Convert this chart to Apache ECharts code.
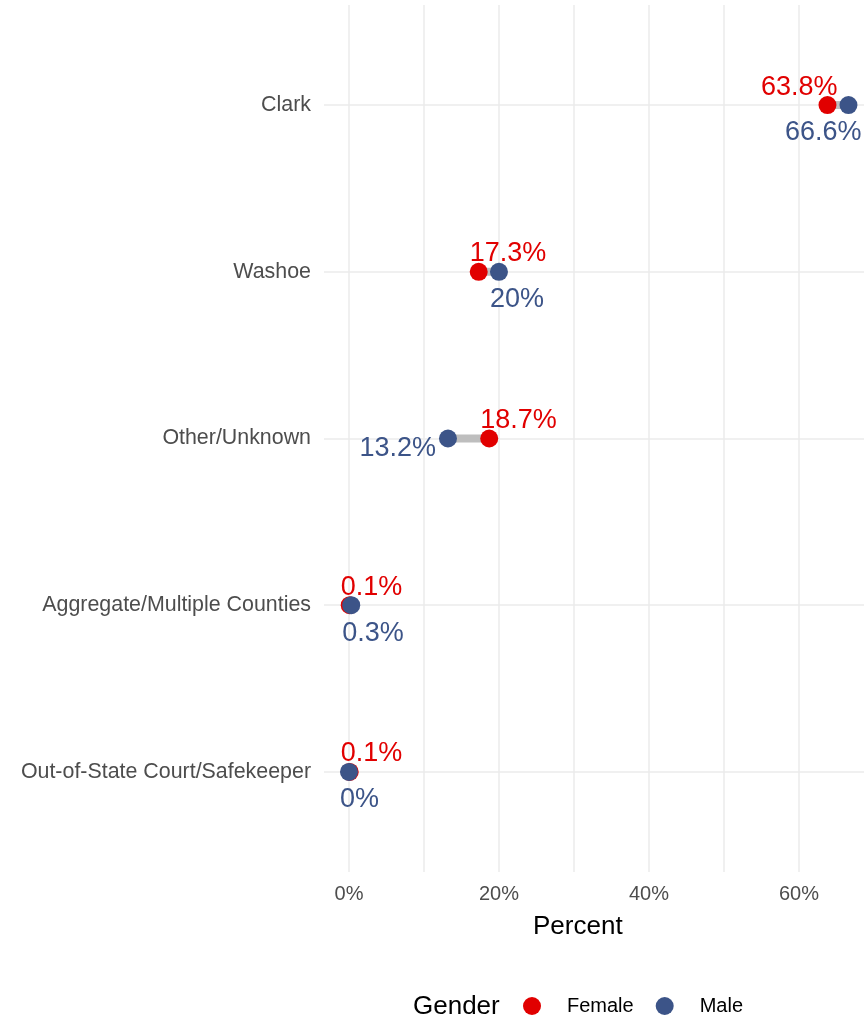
<!DOCTYPE html>
<html>
<head>
<meta charset="utf-8">
<title>Gender by county</title>
<script src="https://cdn.jsdelivr.net/npm/echarts@6/dist/echarts.min.js"></script>
<style>
  html, body { margin: 0; padding: 0; background: #fff; }
  #chart { width: 864px; height: 1019px; }
</style>
</head>
<body>
<div id="chart"></div>
<script>
  // data
  const counties = ['Clark', 'Washoe', 'Other/Unknown', 'Aggregate/Multiple Counties', 'Out-of-State Court/Safekeeper'];
  const female = [63.8, 17.3, 18.7, 0.1, 0.1];
  const male = [66.6, 20, 13.2, 0.3, 0];
  const xTicks = [0, 20, 40, 60];
  const xGrid = [0, 10, 20, 30, 40, 50, 60];

  const RED = '#E10000';
  const BLUE = '#3C5488';
  const FONT = '"Liberation Sans", Arial, sans-serif';

  // label placement (style only)
  function femaleLabel(i) {
    if (i === 0) return { align: 'right', offset: [10, -17] };
    return { align: 'left', offset: [-9, -18] };
  }
  function maleLabel(i) {
    if (i === 0) return { align: 'right', offset: [13, 28] };
    if (male[i] < female[i] && female[i] - male[i] > 1) return { align: 'right', offset: [-12, 10] };
    return { align: 'left', offset: [-9, 28] };
  }

  const labelBase = {
    show: true,
    position: 'inside',
    verticalAlign: 'middle',
    fontSize: 27,
    fontFamily: FONT,
    formatter: (p) => p.value[0] + '%'
  };

  const chart = echarts.init(document.getElementById('chart'));
  chart.setOption({
    animation: false,
    textStyle: { fontFamily: FONT },
    title: [
      { text: 'Percent', left: 528, top: 909, textStyle: { fontSize: 26, fontWeight: 'normal', color: '#000', fontFamily: FONT } },
      { text: 'Gender', left: 408, top: 989, textStyle: { fontSize: 26, fontWeight: 'normal', color: '#000', fontFamily: FONT } }
    ],
    legend: {
      data: ['Female', 'Male'],
      left: 518,
      top: 991,
      icon: 'circle',
      itemWidth: 18,
      itemHeight: 18,
      itemGap: 22,
      textStyle: { fontSize: 20, color: '#000', padding: [0, 0, 0, 21], fontFamily: FONT }
    },
    grid: { left: 324, top: 5, right: 0, bottom: 147, containLabel: false },
    xAxis: {
      type: 'value',
      min: -3.33,
      max: 68.67,
      axisLine: { show: false },
      axisTick: { show: false },
      splitLine: { show: false },
      axisLabel: {
        customValues: xTicks,
        formatter: (v) => v + '%',
        fontSize: 20,
        color: '#4D4D4D',
        margin: 12
      }
    },
    yAxis: {
      type: 'value',
      inverse: true,
      min: -0.6,
      max: 4.6,
      axisLine: { show: false },
      axisTick: { show: false },
      splitLine: { show: false },
      axisLabel: {
        customValues: counties.map((c, i) => i),
        formatter: (v) => counties[v] || '',
        fontSize: 21.4,
        color: '#4D4D4D',
        margin: 13
      }
    },
    series: [
      {
        name: 'grid',
        type: 'line',
        data: [],
        z: 0,
        markLine: {
          silent: true,
          z: 0,
          symbol: 'none',
          label: { show: false },
          lineStyle: { color: '#EBEBEB', width: 1.5, type: 'solid' },
          data: xGrid.map((v) => ({ xAxis: v })).concat(counties.map((c, i) => ({ yAxis: i })))
        }
      },
      {
        name: 'segment',
        type: 'custom',
        z: 1,
        data: counties.map((c, i) => [female[i], male[i], i]),
        encode: { x: [0, 1], y: 2 },
        renderItem: (params, api) => {
          const a = api.coord([api.value(0), api.value(2)]);
          const b = api.coord([api.value(1), api.value(2)]);
          return {
            type: 'line',
            shape: { x1: a[0], y1: a[1], x2: b[0], y2: b[1] },
            style: { stroke: '#BEBEBE', lineWidth: 8 }
          };
        }
      },
      {
        name: 'Female',
        type: 'scatter',
        z: 3,
        symbolSize: 18,
        itemStyle: { color: RED, opacity: 1 },
        data: female.map((v, i) => ({
          value: [v, i],
          label: Object.assign({}, labelBase, { color: RED }, femaleLabel(i))
        }))
      },
      {
        name: 'Male',
        type: 'scatter',
        z: 4,
        symbolSize: 18,
        itemStyle: { color: BLUE, opacity: 1 },
        data: male.map((v, i) => ({
          value: [v, i],
          label: Object.assign({}, labelBase, { color: BLUE }, maleLabel(i))
        }))
      }
    ]
  });
</script>
</body>
</html>
